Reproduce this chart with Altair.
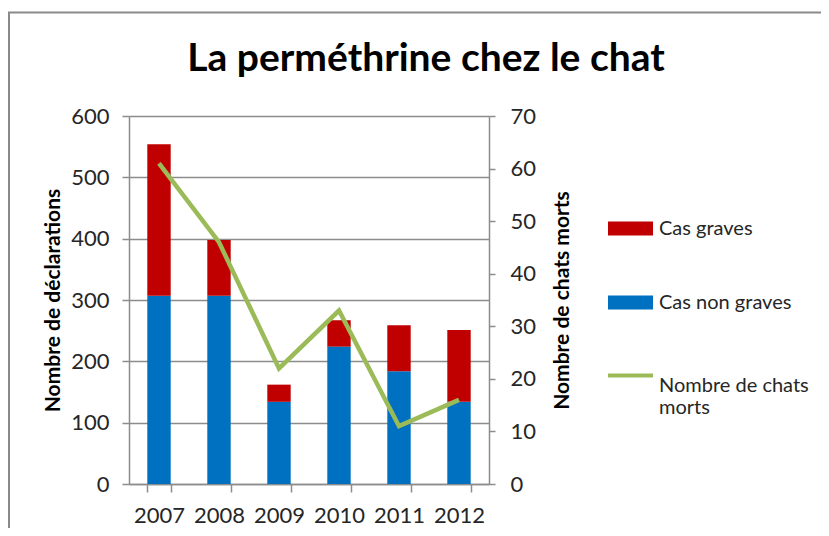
import altair as alt
import pandas as pd

years = ['2007', '2008', '2009', '2010', '2011', '2012']
cas_non_graves = [307, 307, 134, 224, 184, 134]
cas_graves = [247, 91, 28, 43, 75, 117]
chats_morts = [61, 46, 22, 33, 11, 16]
left_ticks = [0, 100, 200, 300, 400, 500, 600]
right_ticks = [0, 10, 20, 30, 40, 50, 60, 70]

rows = []
for y, ng, g in zip(years, cas_non_graves, cas_graves):
    rows.append(dict(annee=y, type='Cas non graves', n=ng, ordre=0))
    rows.append(dict(annee=y, type='Cas graves', n=g, ordre=1))
bars_df = pd.DataFrame(rows)
line_df = pd.DataFrame(dict(annee=years, morts=chats_morts, serie='Nombre de chats morts'))

FONT = 'Lato'
GREY = '#8c8c8c'
TXT = '#262626'

x_enc = alt.X('annee:N', title=None, sort=years,
              scale=alt.Scale(paddingInner=0.61, paddingOuter=0.305),
              axis=alt.Axis(tickBand='extent', labelAngle=0, tickSize=8, labelPadding=13,
                            labelFont=FONT, labelFontSize=22, labelColor=TXT,
                            domainColor=GREY, tickColor=GREY, domainWidth=1.5, tickWidth=1.5))

bars = alt.Chart(bars_df).mark_bar().encode(
    x=x_enc,
    y=alt.Y('sum(n):Q', title='Nombre de déclarations',
            scale=alt.Scale(domain=[0, 600], nice=False),
            axis=alt.Axis(values=left_ticks, grid=True, gridColor=GREY, gridWidth=1.5,
                          domainColor=GREY, tickColor=GREY, domainWidth=1.5, tickWidth=1.5,
                          tickSize=7, labelPadding=13, labelFont=FONT, labelFontSize=22,
                          labelColor=TXT, titleFont=FONT, titleFontSize=21, titleFontWeight='bold',
                          titleColor='black', titleX=-76, titleY=184, titleAngle=-90,
                          titleBaseline='middle', titleAlign='center')),
    color=alt.Color('type:N',
                    scale=alt.Scale(domain=['Cas graves', 'Cas non graves'], range=['#C00000', '#0070C0']),
                    legend=alt.Legend(title=None, orient='none', legendX=479, legendY=90,
                                      symbolType='M-1,-0.31L1,-0.31L1,0.31L-1,0.31Z', symbolSize=2025,
                                      symbolStrokeWidth=0, labelFont=FONT, labelFontSize=20,
                                      labelColor=TXT, rowPadding=41, labelOffset=6, padding=0)),
    order=alt.Order('ordre:Q')
)

line = alt.Chart(line_df).mark_line(strokeWidth=4.5).encode(
    x=alt.X('annee:N', sort=years),
    y=alt.Y('morts:Q', title='Nombre de chats morts',
            scale=alt.Scale(domain=[0, 70], nice=False),
            axis=alt.Axis(orient='right', values=right_ticks, grid=False,
                          domainColor=GREY, tickColor=GREY, domainWidth=1.5, tickWidth=1.5,
                          tickSize=6, labelPadding=15, labelFont=FONT, labelFontSize=22,
                          labelColor=TXT, titleFont=FONT, titleFontSize=21, titleFontWeight='bold',
                          titleColor='black', titleX=73, titleY=184, titleAngle=-90,
                          titleBaseline='middle', titleAlign='center')),
    stroke=alt.Stroke('serie:N',
                      scale=alt.Scale(domain=['Nombre de chats morts'], range=['#9BBB59']),
                      legend=alt.Legend(title=None, orient='none', legendX=477, legendY=235,
                                        symbolType='stroke', symbolSize=2025, symbolStrokeWidth=4,
                                        labelFont=FONT, labelFontSize=20, labelColor=TXT,
                                        labelBaseline='top', labelOffset=4, padding=0,
                                        labelExpr="datum.label == 'Nombre de chats morts' ? ['Nombre de chats', 'morts'] : datum.label"))
)

border = alt.Chart(alt.Data(values=[{}])).mark_rect(fill=None, stroke='#8a8a8a', strokeWidth=2).encode(
    x=alt.value(-120), x2=alt.value(900), y=alt.value(-103.5), y2=alt.value(700)
)

chart = alt.layer(border, bars, line).resolve_scale(y='independent').properties(
    width=360, height=368,
    autosize=alt.AutoSizeParams(type='none'),
    padding={'left': 121, 'top': 108, 'right': 332, 'bottom': 44},
    title=alt.Title('La perméthrine chez le chat', font=FONT, fontSize=39, fontWeight='bold',
                    color='black', anchor='middle', frame='group', dx=117, offset=0, dy=98,
                    baseline='alphabetic')
).configure_view(stroke=None).configure(background='white')

chart.save('out.html', embed_options={'renderer': 'svg', 'actions': False})
